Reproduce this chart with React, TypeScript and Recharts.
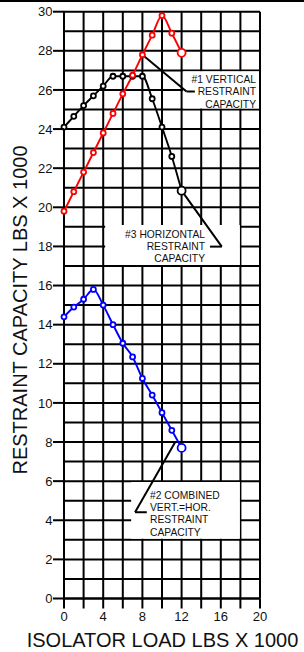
import React from 'react'
import {
  LineChart, Line, XAxis, YAxis, CartesianGrid,
  ReferenceArea, ReferenceLine
} from 'recharts'

// isolator load, lbs x 1000
const LOAD = [0, 1, 2, 3, 4, 5, 6, 7, 8, 9, 10, 11, 12]
// restraint capacity, lbs x 1000
const VERTICAL = [19.8, 20.8, 21.8, 22.8, 23.8, 24.8, 25.8, 26.75, 27.8, 28.8, 29.8, 28.9, 27.9]
const HORIZONTAL = [24.1, 24.65, 25.2, 25.7, 26.2, 26.7, 26.7, 26.7, 26.7, 25.55, 24.1, 22.6, 20.85]
const COMBINED = [14.4, 14.9, 15.3, 15.8, 15.0, 14.0, 13.05, 12.35, 11.25, 10.4, 9.5, 8.6, 7.7]

const X_TICKS = [0, 2, 4, 6, 8, 10, 12, 14, 16, 18, 20]
const Y_TICKS = [0, 1, 2, 3, 4, 5, 6, 7, 8, 9, 10, 11, 12, 13, 14, 15, 16, 17, 18, 19, 20, 21, 22, 23, 24, 25, 26, 27, 28, 29, 30]

const data = LOAD.map((load, i) => ({
  load,
  vertical: VERTICAL[i],
  horizontal: HORIZONTAL[i],
  combined: COMBINED[i]
}))

const FONT = '"Liberation Sans", Arial, Helvetica, sans-serif'
const RED = '#ff0000'
const BLUE = '#0000ff'
const BLACK = '#000000'

const YTick = ({ x, y, payload }: any) => {
  if (payload.value % 2 !== 0) return null
  return (
    <g>
      <line x1={x - 11} x2={x} y1={y} y2={y} stroke={BLACK} strokeWidth={2} />
      <text x={x - 11.5} y={y + 4.6} textAnchor="end" fontSize={13} fontFamily={FONT} fill="#111">
        {payload.value}
      </text>
    </g>
  )
}

const XTick = ({ x, y, payload }: any) => (
  <g>
    <line x1={x} x2={x} y1={y} y2={y + 10} stroke={BLACK} strokeWidth={2} />
    {payload.value % 4 === 0 && (
      <text x={x} y={y + 22} textAnchor="middle" fontSize={13} fontFamily={FONT} fill="#111">
        {payload.value}
      </text>
    )}
  </g>
)

const makeDot = (color: string) => (props: any) => {
  const { cx, cy, index } = props
  const last = index === LOAD.length - 1
  return (
    <circle
      key={`dot-${color}-${index}`}
      cx={cx}
      cy={cy}
      r={last ? 4 : 2.5}
      fill="#fff"
      stroke={color}
      strokeWidth={1.8}
    />
  )
}

const NoteText = ({ lines, x, y, anchor }: { lines: string[], x: number, y: number, anchor: 'start' | 'end' }) => (
  <text fontSize={10.3} fontFamily={FONT} fill="#111" textAnchor={anchor}>
    {lines.map((l, i) => (
      <tspan key={i} x={x} y={y + i * 12.2}>{l}</tspan>
    ))}
  </text>
)

export default function App() {
  return (
    <div style={{ position: 'absolute', left: 0, top: 0, width: 304, height: 652, background: '#fff' }}>
      <div style={{ position: 'absolute', left: 0, top: 0, width: 304, height: 2, background: '#000' }} />
      <LineChart
        width={304}
        height={652}
        data={data}
        margin={{ top: 11.7, right: 44, left: 0, bottom: 0 }}
      >
        <CartesianGrid stroke={BLACK} strokeWidth={2} />
        <XAxis
          dataKey="load"
          type="number"
          domain={[0, 20]}
          ticks={X_TICKS}
          interval={0}
          height={53.5}
          tickSize={0}
          tickMargin={0}
          tickLine={false}
          tick={<XTick />}
          axisLine={{ stroke: BLACK, strokeWidth: 2 }}
        />
        <YAxis
          type="number"
          domain={[0, 30]}
          ticks={Y_TICKS}
          interval={0}
          width={64}
          tickSize={0}
          tickMargin={0}
          tickLine={false}
          tick={<YTick />}
          axisLine={{ stroke: BLACK, strokeWidth: 2 }}
        />

        {/* white callout boxes */}
        <ReferenceArea x1={12.15} x2={19.9} y1={25.05} y2={26.95} fill="#fff" fillOpacity={1} stroke="none" />
        <ReferenceArea x1={4.2} x2={17.95} y1={17.05} y2={19.1} fill="#fff" fillOpacity={1} stroke="none" />
        <ReferenceArea x1={6.85} x2={17.95} y1={3.05} y2={5.95} fill="#fff" fillOpacity={1} stroke="none" />

        {/* leader lines */}
        <ReferenceLine segment={[{ x: 8, y: 27.8 }, { x: 12.5, y: 25.92 }]} stroke={BLACK} strokeWidth={2} />
        <ReferenceLine segment={[{ x: 12.5, y: 25.92 }, { x: 13.35, y: 25.92 }]} stroke={BLACK} strokeWidth={2} />
        <ReferenceLine segment={[{ x: 12, y: 20.85 }, { x: 16.1, y: 17.99 }]} stroke={BLACK} strokeWidth={2} />
        <ReferenceLine segment={[{ x: 16.1, y: 17.99 }, { x: 14.9, y: 17.99 }]} stroke={BLACK} strokeWidth={2} />
        <ReferenceLine segment={[{ x: 11.35, y: 8.0 }, { x: 7.25, y: 4.41 }]} stroke={BLACK} strokeWidth={2} />
        <ReferenceLine segment={[{ x: 7.25, y: 4.41 }, { x: 8.45, y: 4.41 }]} stroke={BLACK} strokeWidth={2} />

        <Line
          type="monotone"
          dataKey="horizontal"
          stroke={BLACK}
          strokeWidth={1.9}
          dot={makeDot(BLACK)}
          activeDot={false}
          isAnimationActive={false}
        />
        <Line
          type="monotone"
          dataKey="vertical"
          stroke={RED}
          strokeWidth={1.9}
          dot={makeDot(RED)}
          activeDot={false}
          isAnimationActive={false}
        />
        <Line
          type="monotone"
          dataKey="combined"
          stroke={BLUE}
          strokeWidth={1.9}
          dot={makeDot(BLUE)}
          activeDot={false}
          isAnimationActive={false}
        />
      </LineChart>

      {/* axis titles and callout texts, drawn over the chart */}
      <svg
        width={304}
        height={652}
        style={{ position: 'absolute', left: 0, top: 0, pointerEvents: 'none' }}
      >
        <text
          x={27}
          y={310}
          transform="rotate(-90, 27, 310)"
          textAnchor="middle"
          fontSize={20}
          fontFamily={FONT}
          fill="#111"
        >
          RESTRAINT CAPACITY LBS X 1000
        </text>
        <text x={162.5} y={647} textAnchor="middle" fontSize={20} fontFamily={FONT} fill="#111">
          ISOLATOR LOAD LBS X 1000
        </text>
        <NoteText lines={['#1 VERTICAL', 'RESTRAINT', 'CAPACITY']} x={256} y={83.2} anchor="end" />
        <NoteText lines={['#3 HORIZONTAL', 'RESTRAINT', 'CAPACITY']} x={205} y={237.5} anchor="end" />
        <NoteText lines={['#2 COMBINED', 'VERT.=HOR.', 'RESTRAINT', 'CAPACITY']} x={150} y={499} anchor="start" />
      </svg>
    </div>
  )
}
